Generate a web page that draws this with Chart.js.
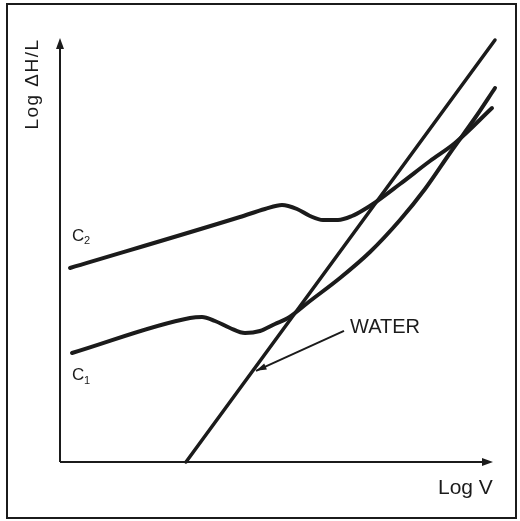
<!DOCTYPE html>
<html>
<head>
<meta charset="utf-8">
<script src="https://cdn.jsdelivr.net/npm/chart.js@4/dist/chart.umd.min.js"></script>
<style>
  html, body { margin: 0; padding: 0; background: #fff; }
  #wrap { width: 520px; height: 521px; }
</style>
</head>
<body>
<div id="wrap"><canvas id="curves" width="520" height="521"></canvas></div>
<script>
// curve data in arbitrary log units (origin at the axes corner)
const waterX = [3.15, 10.875];
const waterY = [0, 10.55];

const c1X = [0.3, 3.25, 3.55, 3.875, 4.25, 4.625, 5, 5.375, 5.7, 6.25, 7, 7.75, 8.5, 9.125, 9.75, 10.375, 10.875];
const c1Y = [2.725, 3.6, 3.625, 3.525, 3.35, 3.225, 3.275, 3.45, 3.6, 4.025, 4.6, 5.25, 6.05, 6.825, 7.725, 8.6, 9.35];

const c2X = [0.25, 4.5, 5.125, 5.55, 5.925, 6.25, 6.575, 6.95, 7.3, 7.625, 7.825, 8.5, 9.25, 9.875, 10.8];
const c2Y = [4.85, 6.125, 6.325, 6.425, 6.325, 6.15, 6.05, 6.05, 6.15, 6.325, 6.45, 6.95, 7.525, 7.975, 8.85];

const INK = '#1b1b1b';
const FONT = '"Liberation Sans", Arial, Helvetica, sans-serif';

function pts(xs, ys) {
  return xs.map((x, i) => ({x: x, y: ys[i]}));
}

function curve(label, xs, ys, width) {
  return {
    label: label,
    data: pts(xs, ys),
    borderColor: INK,
    borderWidth: width,
    borderCapStyle: 'round',
    borderJoinStyle: 'round',
    pointRadius: 0,
    fill: false,
    cubicInterpolationMode: 'monotone'
  };
}

// frame, axes with arrows and the text labels
const decor = {
  id: 'decor',
  afterDraw(chart) {
    const ctx = chart.ctx;
    const sx = chart.scales.x, sy = chart.scales.y;
    const X = v => sx.getPixelForValue(v);
    const Y = v => sy.getPixelForValue(v);
    ctx.save();
    ctx.strokeStyle = INK;
    ctx.fillStyle = INK;

    // outer frame
    ctx.lineWidth = 2;
    ctx.strokeRect(7, 4, 509, 514);

    // axes
    const ox = X(0), oy = Y(0);
    const xTip = X(10.825), yTip = Y(10.6);
    ctx.lineWidth = 2;
    ctx.beginPath();
    ctx.moveTo(ox, oy); ctx.lineTo(xTip - 6, oy);
    ctx.moveTo(ox, oy); ctx.lineTo(ox, yTip + 6);
    ctx.stroke();
    ctx.beginPath();
    ctx.moveTo(xTip, oy); ctx.lineTo(xTip - 11, oy - 4); ctx.lineTo(xTip - 11, oy + 4); ctx.closePath();
    ctx.fill();
    ctx.beginPath();
    ctx.moveTo(ox, yTip); ctx.lineTo(ox - 4, yTip + 11); ctx.lineTo(ox + 4, yTip + 11); ctx.closePath();
    ctx.fill();

    // axis titles
    ctx.textBaseline = 'alphabetic';
    ctx.textAlign = 'left';
    ctx.font = '21px ' + FONT;
    ctx.fillText('Log V', X(9.45), Y(-0.8));
    ctx.save();
    ctx.translate(X(-0.55), Y(9.45));
    ctx.rotate(-Math.PI / 2);
    ctx.textAlign = 'center';
    ctx.font = '19px ' + FONT;
    ctx.letterSpacing = '1.5px';
    ctx.fillText('Log \u0394H/L', 0, 0);
    ctx.restore();
    ctx.letterSpacing = '0px';

    // curve labels
    ctx.font = '17px ' + FONT;
    ctx.fillText('C', X(0.3), Y(5.52));
    ctx.fillText('C', X(0.3), Y(2.05));
    ctx.font = '11px ' + FONT;
    ctx.fillText('2', X(0.6), Y(5.45));
    ctx.fillText('1', X(0.6), Y(1.95));

    ctx.font = '20px ' + FONT;
    ctx.fillText('WATER', X(7.25), Y(3.23));

    // pointer arrow to the water line
    const ax0 = X(7.1), ay0 = Y(3.28), ax1 = X(4.9), ay1 = Y(2.28);
    ctx.lineWidth = 2;
    ctx.beginPath();
    ctx.moveTo(ax0, ay0); ctx.lineTo(ax1, ay1);
    ctx.stroke();
    const ang = Math.atan2(ay1 - ay0, ax1 - ax0);
    ctx.beginPath();
    ctx.moveTo(ax1, ay1);
    ctx.lineTo(ax1 - 11 * Math.cos(ang - 0.3), ay1 - 11 * Math.sin(ang - 0.3));
    ctx.lineTo(ax1 - 11 * Math.cos(ang + 0.3), ay1 - 11 * Math.sin(ang + 0.3));
    ctx.closePath();
    ctx.fill();

    ctx.restore();
  }
};

new Chart(document.getElementById('curves'), {
  type: 'line',
  data: {
    datasets: [
      curve('Water', waterX, waterY, 3.5),
      curve('C1', c1X, c1Y, 4),
      curve('C2', c2X, c2Y, 4)
    ]
  },
  options: {
    responsive: false,
    animation: false,
    events: [],
    layout: { padding: 0 },
    plugins: { legend: { display: false }, tooltip: { enabled: false } },
    scales: {
      x: { type: 'linear', min: -1.5, max: 11.5, display: false },
      y: { type: 'linear', min: -1.475, max: 11.55, display: false }
    }
  },
  plugins: [decor]
});
</script>
</body>
</html>
